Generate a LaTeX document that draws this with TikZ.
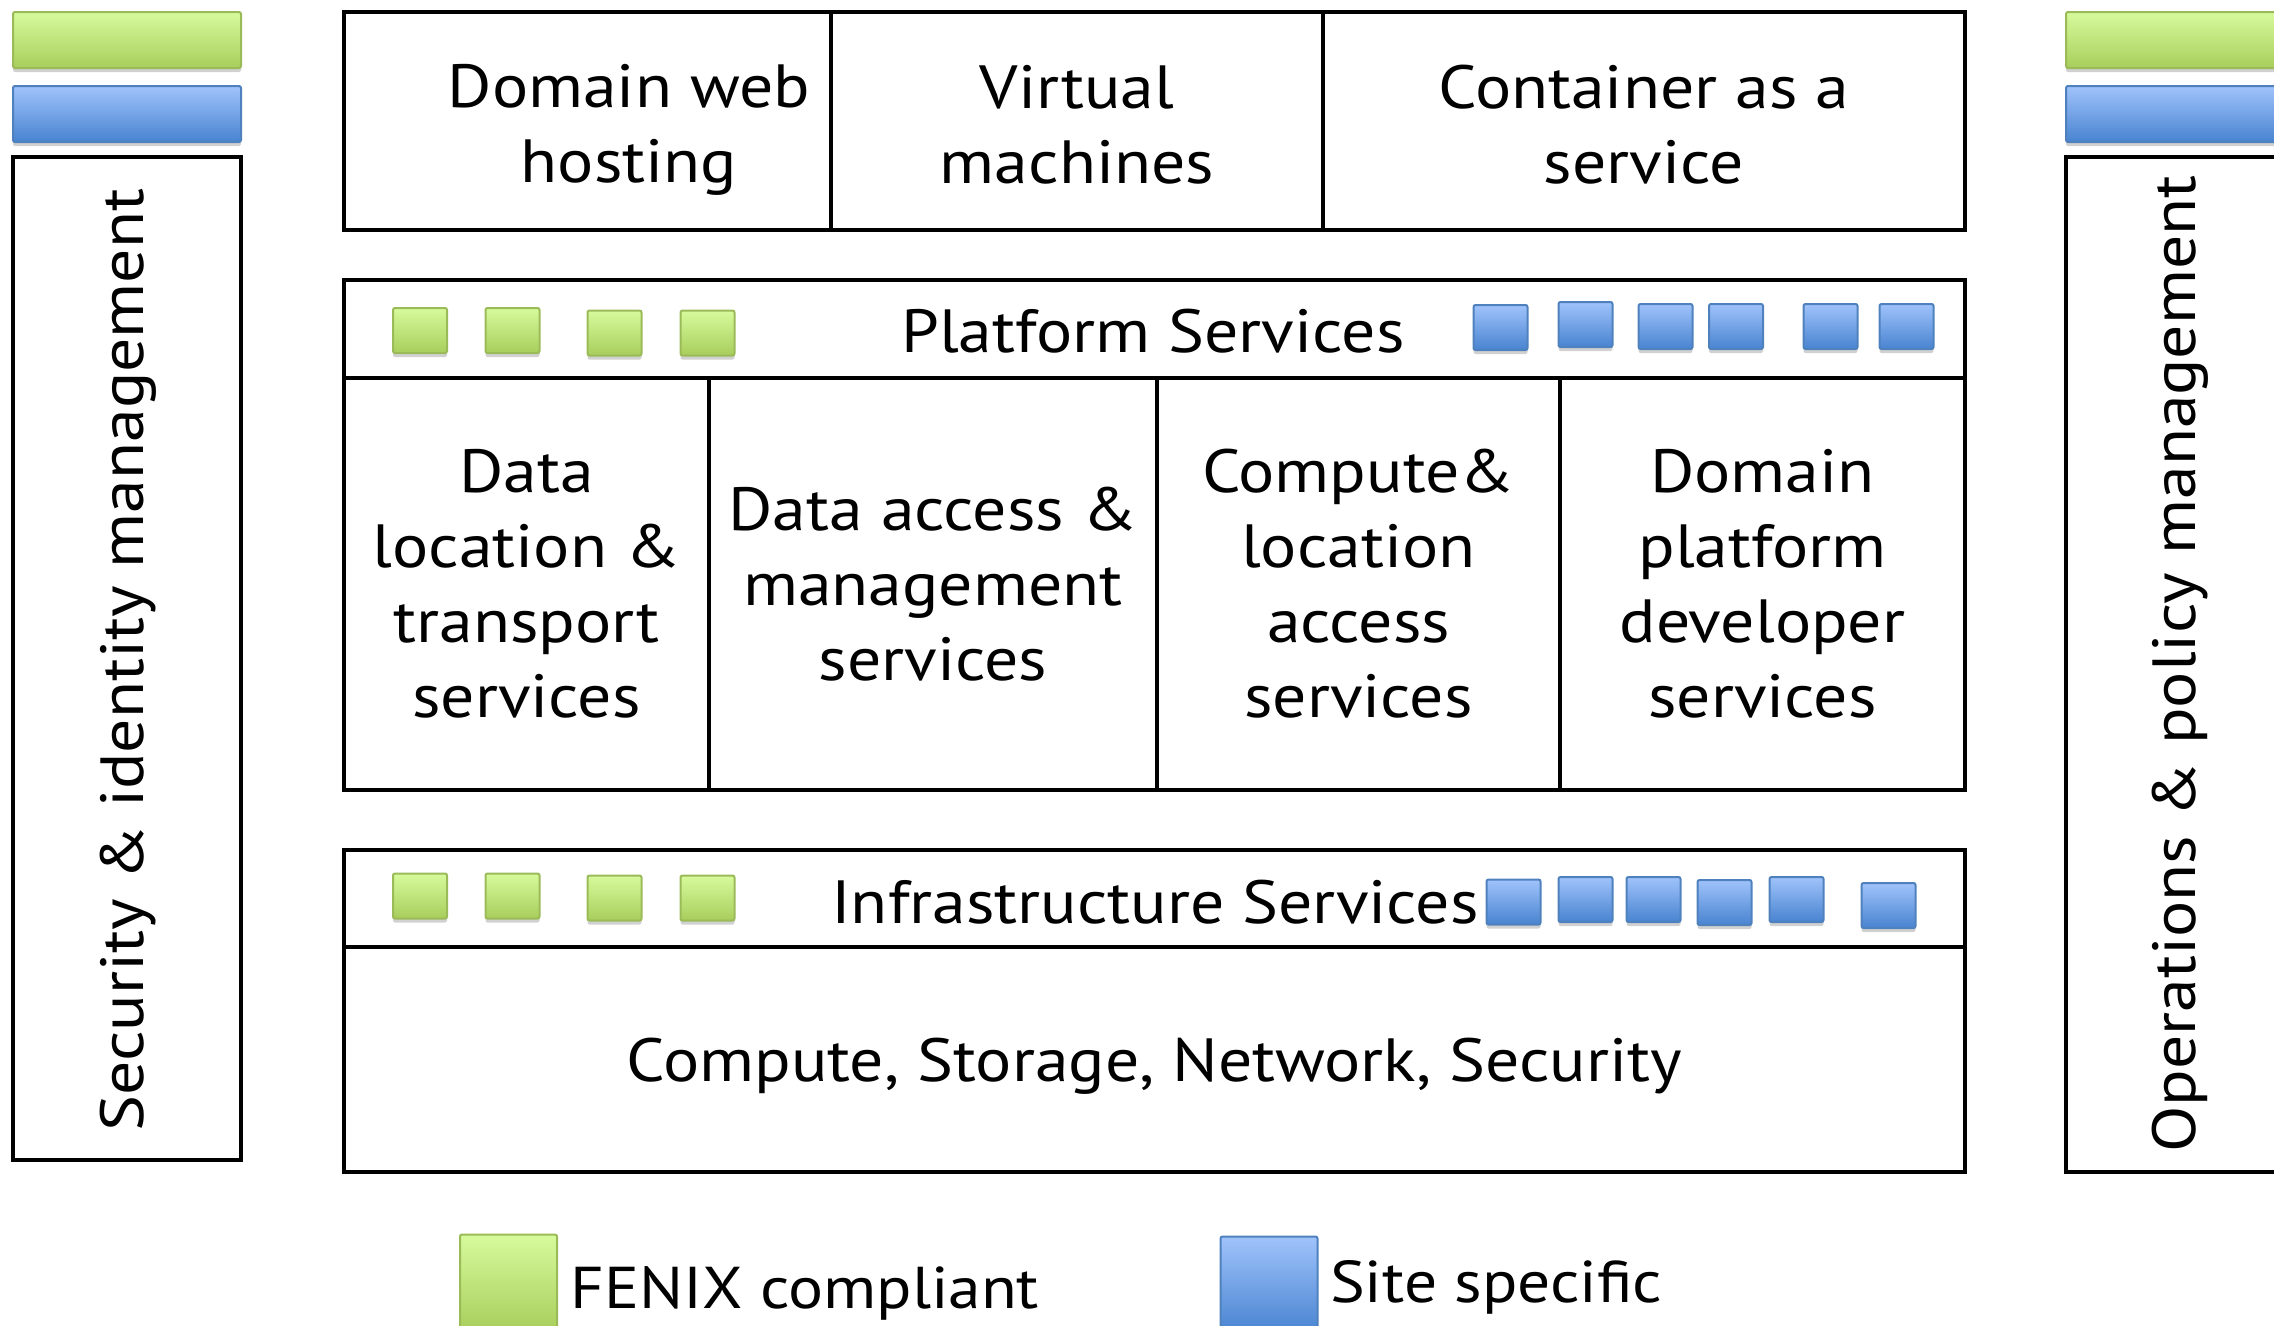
\documentclass[tikz,border=0pt]{standalone}
\usepackage{fontspec}
\setmainfont[FakeStretch=1.11]{PT Sans}
\usetikzlibrary{shadows}
\definecolor{fenixtop}{HTML}{D7FA9C}
\definecolor{fenixbot}{HTML}{A8CE5C}
\definecolor{fenixrim}{HTML}{9BBB59}
\definecolor{sitetop}{HTML}{A0C3FB}
\definecolor{sitebot}{HTML}{4883D0}
\definecolor{siterim}{HTML}{4F81BD}
\tikzset{
  frame/.style={draw=black, line width=4.5pt, inner sep=0pt, align=center,
    font=\fontsize{61}{75}\selectfont},
  label text/.style={inner sep=0pt, align=center, font=\fontsize{61}{75}\selectfont},
  tile/.style={line width=2pt, rounded corners=2pt, inner sep=0pt,
    drop shadow={shadow xshift=0pt, shadow yshift=-4pt, opacity=0.18, fill=black}},
  fenix/.style={tile, draw=fenixrim, top color=fenixtop, bottom color=fenixbot},
  site/.style={tile, draw=siterim, top color=sitetop, bottom color=sitebot},
  chip/.style={minimum width=54pt, minimum height=45pt},
}
\begin{document}
\begin{tikzpicture}[x=1pt, y=-1pt]
\useasboundingbox (0,0) rectangle (2274,1325);
\clip (0,0) rectangle (2274,1325);

% side columns: colour bars over a tall framed box
\node[fenix, minimum width=228pt, minimum height=56pt] (lgbar) at (127,40) {};
\node[site,  minimum width=228pt, minimum height=56pt] (lbbar) at (127,114) {};
\node[frame, minimum width=228pt, minimum height=1003pt] (lcol) at (127,658.5) {};
\node[label text, rotate=90] (ltxt) at (128,660) {Security \& identity management};

\node[fenix, minimum width=228pt, minimum height=56pt] (rgbar) at (2180,40) {};
\node[site,  minimum width=228pt, minimum height=56pt] (rbbar) at (2180,114) {};
\node[frame, minimum width=228pt, minimum height=1015pt] (rcol) at (2180,664.5) {};
\node[label text, rotate=90] (rtxt) at (2180,664) {Operations \& policy management};

% top row of hosting offers
\node[frame, minimum width=487pt, minimum height=218pt] (web) at (587.5,121) {};
\node[label text] (webtxt) at (629,130) {Domain web\\hosting};
\node[frame, minimum width=492pt, minimum height=218pt] (vm) at (1077,121) {};
\node[label text] (vmtxt) at (1077,125) {Virtual\\machines};
\node[frame, minimum width=642pt, minimum height=218pt] (caas) at (1644,121) {};
\node[label text] (caastxt) at (1644,125) {Container as a\\service};

% platform services layer
\node[frame, minimum width=1621pt, minimum height=98pt] (plat) at (1154.5,329) {};
\node[label text] (plattxt) at (1153,331) {Platform Services};
\node[frame, minimum width=365pt, minimum height=412pt] (p1) at (526.5,584) {Data\\location \&\\transport\\services};
\node[frame, minimum width=448pt, minimum height=412pt] (p2) at (933,584) {Data access \&\\management\\services};
\node[frame, minimum width=403pt, minimum height=412pt] (p3) at (1358.5,584) {Compute\&\\location\\access\\services};
\node[frame, minimum width=405pt, minimum height=412pt] (p4) at (1762.5,584) {Domain\\platform\\developer\\services};

% infrastructure services layer
\node[frame, minimum width=1621pt, minimum height=97pt] (infra) at (1154.5,898.5) {};
\node[label text] (infratxt) at (1155,902) {Infrastructure Services};
\node[frame, minimum width=1621pt, minimum height=225pt] (base) at (1154.5,1059.5) {};
\node[label text] (basetxt) at (1154.5,1066) {Compute, Storage, Network, Security};

% platform chips
\node[fenix, chip] (pg1) at (420,330.5) {};
\node[fenix, chip] (pg2) at (512.5,330.5) {};
\node[fenix, chip] (pg3) at (614.5,333) {};
\node[fenix, chip] (pg4) at (707.5,333) {};
\node[site, chip] (pb1) at (1500.5,327.5) {};
\node[site, chip] (pb2) at (1585.5,324.5) {};
\node[site, chip] (pb3) at (1665.5,326.5) {};
\node[site, chip] (pb4) at (1736,326.5) {};
\node[site, chip] (pb5) at (1830.5,326.5) {};
\node[site, chip] (pb6) at (1906.5,326.5) {};

% infrastructure chips
\node[fenix, chip] (ig1) at (420,896) {};
\node[fenix, chip] (ig2) at (512.5,896) {};
\node[fenix, chip] (ig3) at (614.5,898) {};
\node[fenix, chip] (ig4) at (707.5,898) {};
\node[site, chip] (ib1) at (1513.5,902) {};
\node[site, chip] (ib2) at (1585.5,899.5) {};
\node[site, chip] (ib3) at (1653.5,899.5) {};
\node[site, chip] (ib4) at (1724.5,902.5) {};
\node[site, chip] (ib5) at (1796.5,899.5) {};
\node[site, chip] (ib6) at (1888.5,905.5) {};

% legend
\node[fenix, minimum width=97pt, minimum height=97pt] (legf) at (508.5,1283) {};
\node[label text, anchor=base west, font=\fontsize{59}{70}\selectfont] (legftxt) at (570,1308) {FENIX compliant};
\node[site, minimum width=97pt, minimum height=97pt] (legs) at (1269,1285) {};
\node[label text, anchor=base west, font=\fontsize{59}{70}\selectfont] (legstxt) at (1330,1302) {Site specific};
\end{tikzpicture}
\end{document}
